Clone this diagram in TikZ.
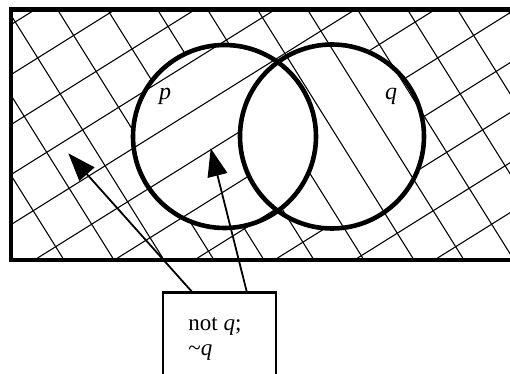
\documentclass[tikz,border=0pt]{standalone}
\usepackage{fontspec}
\setmainfont{Liberation Serif}
\usetikzlibrary{arrows.meta,positioning,calc}

\begin{document}
\begin{tikzpicture}[x=0.5pt,y=-0.5pt,>=Latex]
    \tikzset{
      frame/.style={line width=2.4pt},
      setline/.style={line width=2.3pt},
      hatch/.style={line width=0.55pt},
      pointer/.style={-{Triangle[length=14pt,width=10pt]},line width=0.9pt},
      labelbox/.style={draw,line width=1.2pt,minimum width=56.25pt,minimum height=60pt,inner sep=0pt},
      setlabel/.style={font=\fontsize{12}{14}\selectfont\itshape,inner sep=0pt}
    }
    \useasboundingbox (0,0) rectangle (510,374);
    \clip (0,0) rectangle (510,374);
    % not q: shallow hatching outside q
    \begin{scope}[even odd rule]
      \clip (11,9.5) rectangle (530,260) (332,136.5) circle[radius=92];
      \foreach \k in {-1,...,12}
        \draw[hatch] (0,{31.5+50*\k}) -- (530,{-299.75+50*\k});
    \end{scope}
    % not p: steep hatching outside p
    \begin{scope}[even odd rule]
      \clip (11,9.5) rectangle (530,260) (224.5,136.5) circle[radius=91.5];
      \foreach \k in {-4,...,11}
        \draw[hatch] ({1.5+50*\k},0) -- ({170.25+50*\k},270);
    \end{scope}
    \draw[frame] (11,9.5) rectangle (530,260);
    \draw[setline] (224.5,136.5) circle[radius=91.5];
    \draw[setline] (332,136.5) circle[radius=92];
    \node[setlabel,anchor=base] (plabel) at (165,100) {p};
    \node[setlabel,anchor=base] (qlabel) at (391,100) {q};

    \node[labelbox,anchor=north west] (notq) at (162,291.5) {};
    \node[anchor=base west,align=left,inner sep=0pt,font=\fontsize{11.5}{12.7}\selectfont]
          (notqtext) at (188,356) {not \textit{q};\\\textasciitilde\textit{q}};
    \coordinate (outtip) at (68.3,153.3);
    \coordinate (intip) at (210.7,148.3);
    \draw[pointer] ($(notq.north west)+(29.7,0)$) -- (outtip);
    \draw[pointer] ($(notq.north west)+(84.7,0)$) -- (intip);
  \end{tikzpicture}
\end{document}
